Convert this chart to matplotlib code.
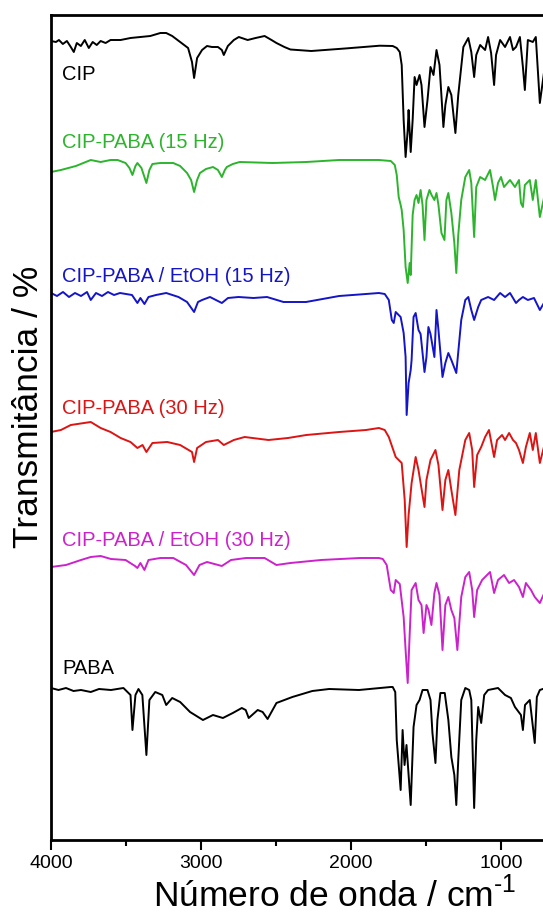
import matplotlib
matplotlib.use("Agg")
import matplotlib.pyplot as plt
from matplotlib.ticker import MultipleLocator

plt.rcParams['font.family'] = ['Liberation Sans', 'DejaVu Sans']
plt.rcParams['mathtext.fontset'] = 'custom'
plt.rcParams['mathtext.rm'] = 'Liberation Sans'

# FTIR spectra, stacked (transmittance in arbitrary offset units)
wn_cip = [4000, 3967, 3947, 3921, 3894, 3868, 3848, 3828, 3801, 3775,
          3748, 3722, 3695, 3669, 3636, 3603, 3536, 3470, 3404, 3338,
          3271, 3232, 3192, 3139, 3086, 3060, 3046, 3026, 2993, 2960,
          2927, 2887, 2861, 2848, 2821, 2781, 2748, 2689, 2636, 2576,
          2530, 2497, 2444, 2404, 2265, 2040, 1808, 1722, 1695, 1675,
          1662, 1649, 1636, 1622, 1616, 1602, 1589, 1576, 1563, 1543,
          1530, 1510, 1490, 1470, 1450, 1430, 1410, 1384, 1371, 1351,
          1331, 1304, 1285, 1251, 1218, 1198, 1179, 1165, 1139, 1106,
          1086, 1066, 1046, 1033, 1006, 973, 940, 920, 900, 874,
          854, 841, 821, 788, 768, 741, 702]
t_cip = [799, 798, 800, 796, 799, 793, 788, 797, 794, 800,
         792, 798, 795, 799, 797, 800, 800, 802, 803, 804,
         807, 807, 804, 798, 792, 778, 762, 782, 790, 794,
         793, 793, 790, 785, 794, 800, 803, 800, 802, 804,
         800, 797, 793, 790.5, 789, 791.5, 794.3, 794, 792, 788,
         775, 720, 683, 710, 730, 688, 720, 763, 755, 765,
         755, 713, 740, 773, 765, 790, 775, 713, 735, 753,
         745, 707, 745, 793, 802, 788, 763, 785, 795, 790,
         803, 787, 755, 785, 800, 793, 803, 790, 793, 803,
         773, 750, 800, 798, 803, 737, 780]

wn_15 = [4000, 3934, 3834, 3735, 3669, 3603, 3556, 3503, 3477, 3457,
         3437, 3424, 3397, 3364, 3344, 3324, 3271, 3185, 3139, 3093,
         3066, 3046, 3026, 3007, 2967, 2920, 2887, 2861, 2841, 2828,
         2788, 2742, 2523, 2298, 2079, 1814, 1735, 1708, 1695, 1682,
         1669, 1662, 1649, 1636, 1622, 1609, 1602, 1589, 1576, 1563,
         1550, 1536, 1523, 1510, 1497, 1477, 1463, 1444, 1430, 1417,
         1397, 1377, 1364, 1351, 1331, 1311, 1298, 1285, 1265, 1238,
         1212, 1198, 1179, 1165, 1139, 1106, 1073, 1053, 1040, 1020,
         1000, 980, 940, 907, 880, 867, 854, 841, 808, 788,
         768, 741, 702]
t_15 = [668, 670, 674, 680, 678, 680, 680, 677, 672, 665,
        674, 677, 672, 657, 670, 676, 677, 677, 674, 667,
        660, 648, 660, 667, 671, 673, 670, 663, 670, 673,
        676, 678, 677, 678, 680, 680, 679, 675, 665, 643,
        635, 630, 610, 573, 557, 577, 565, 625, 640, 645,
        637, 650, 635, 600, 640, 650, 645, 640, 647, 635,
        607, 600, 640, 647, 627, 597, 567, 605, 640, 663,
        670, 657, 603, 653, 663, 660, 670, 653, 640, 657,
        663, 653, 660, 653, 660, 637, 633, 655, 660, 640,
        660, 623, 650]

wn_et15 = [4000, 3960, 3920, 3880, 3840, 3800, 3760, 3735, 3700, 3660,
           3620, 3580, 3540, 3500, 3460, 3424, 3404, 3377, 3350, 3300,
           3232, 3150, 3093, 3046, 3020, 2993, 2940, 2861, 2820, 2750,
           2650, 2560, 2450, 2300, 2079, 1900, 1814, 1775, 1748, 1728,
           1715, 1702, 1689, 1669, 1649, 1636, 1629, 1616, 1602, 1596,
           1583, 1569, 1550, 1536, 1510, 1497, 1484, 1470, 1444, 1430,
           1417, 1390, 1371, 1351, 1331, 1298, 1265, 1238, 1218, 1198,
           1179, 1152, 1132, 1086, 1046, 1006, 973, 940, 900, 880,
           854, 821, 780, 741, 702]
t_et15 = [547, 544, 548, 543, 547, 544, 548, 540, 547, 544,
          548, 545, 547, 546, 545, 537, 542, 536, 543, 545,
          547, 543, 538, 528, 538, 540, 543, 537, 542, 543,
          542, 543, 538, 538, 544, 546, 547, 546, 540, 520,
          517, 528, 526, 523, 507, 483, 425, 457, 470, 480,
          523, 527, 510, 506, 468, 483, 513, 506, 483, 530,
          510, 463, 477, 487, 480, 467, 520, 540, 543, 530,
          520, 533, 540, 543, 540, 547, 543, 547, 537, 540,
          543, 540, 542, 530, 540]

wn_30 = [4000, 3934, 3868, 3735, 3669, 3603, 3536, 3470, 3424, 3390,
         3364, 3324, 3225, 3139, 3060, 3046, 3026, 2967, 2887, 2848,
         2781, 2709, 2550, 2420, 2298, 2079, 1900, 1814, 1775, 1748,
         1702, 1682, 1662, 1642, 1629, 1616, 1596, 1569, 1550, 1536,
         1510, 1497, 1470, 1437, 1417, 1390, 1371, 1351, 1331, 1304,
         1278, 1238, 1212, 1192, 1179, 1159, 1132, 1106, 1080, 1046,
         1026, 993, 973, 946, 920, 900, 880, 854, 834, 808,
         788, 768, 741, 702]
t_30 = [408, 410, 415, 418, 412, 408, 402, 398, 392, 395,
        388, 397, 398, 395, 388, 378, 392, 398, 400, 395,
        400, 403, 400, 402, 405, 408, 410, 412, 410, 403,
        383, 380, 377, 340, 293, 325, 357, 383, 370, 357,
        333, 360, 380, 390, 375, 330, 360, 370, 350, 325,
        370, 400, 407, 390, 353, 385, 393, 403, 410, 383,
        400, 405, 400, 407, 400, 397, 390, 377, 393, 407,
        390, 407, 377, 400]

wn_et30 = [4000, 3900, 3800, 3735, 3669, 3600, 3503, 3440, 3424, 3404,
           3377, 3350, 3271, 3185, 3100, 3046, 3010, 2960, 2861, 2800,
           2700, 2576, 2497, 2404, 2200, 1940, 1814, 1788, 1762, 1735,
           1715, 1702, 1675, 1649, 1636, 1622, 1609, 1596, 1569, 1550,
           1530, 1516, 1497, 1483, 1464, 1444, 1430, 1410, 1390, 1371,
           1351, 1331, 1311, 1291, 1265, 1238, 1212, 1192, 1179, 1159,
           1126, 1073, 1046, 1020, 980, 946, 913, 880, 854, 834,
           800, 775, 741, 702]
t_et30 = [273, 275, 280, 283, 284, 281, 280, 274, 272, 277,
          270, 280, 282, 282, 275, 265, 275, 278, 274, 280,
          282, 282, 275, 277, 280, 282, 282, 281, 275, 250,
          247, 260, 256, 223, 190, 157, 205, 250, 257, 240,
          235, 207, 235, 230, 215, 247, 257, 245, 190, 235,
          243, 230, 222, 190, 243, 263, 268, 250, 223, 250,
          260, 268, 247, 260, 265, 257, 260, 253, 243, 257,
          250, 243, 237, 250]

wn_paba = [4000, 3950, 3900, 3850, 3800, 3735, 3680, 3600, 3517, 3470,
           3457, 3437, 3417, 3391, 3364, 3344, 3305, 3258, 3232, 3192,
           3139, 3073, 2987, 2920, 2854, 2788, 2728, 2702, 2682, 2622,
           2589, 2556, 2497, 2391, 2258, 2146, 1947, 1735, 1722, 1705,
           1695, 1669, 1656, 1643, 1630, 1602, 1583, 1563, 1543, 1523,
           1490, 1470, 1457, 1437, 1424, 1404, 1375, 1351, 1331, 1311,
           1298, 1285, 1265, 1238, 1212, 1198, 1179, 1165, 1152, 1132,
           1112, 1086, 1020, 973, 934, 907, 867, 854, 840, 808,
           775, 761, 741, 702]
t_paba = [152, 150, 152, 149, 150, 148, 151, 150, 152, 145,
          110, 145, 151, 145, 85, 140, 148, 145, 135, 142,
          138, 128, 120, 125, 122, 127, 132, 130, 122, 130,
          128, 121, 137, 143, 149, 151, 150, 153, 153, 148,
          100, 50, 110, 75, 95, 35, 113, 135, 140, 150,
          150, 140, 107, 77, 120, 147, 147, 120, 83, 65,
          35, 80, 140, 152, 150, 140, 32, 100, 133, 117,
          145, 150, 152, 145, 142, 133, 125, 110, 135, 140,
          97, 143, 150, 152]

names = ["CIP", "CIP-PABA (15 Hz)", "CIP-PABA / EtOH (15 Hz)",
         "CIP-PABA (30 Hz)", "CIP-PABA / EtOH (30 Hz)", "PABA"]
label_pos = [766, 697, 564, 432, 300, 172]
colors = ["black", "#2cb52c", "#1414c8", "#dc1414", "#cc22cc", "black"]

spectra = [(wn_cip, t_cip), (wn_15, t_15), (wn_et15, t_et15),
           (wn_30, t_30), (wn_et30, t_et30), (wn_paba, t_paba)]

fig = plt.figure(figsize=(5.43, 9.15), dpi=100)
ax = fig.add_axes([51 / 543, 75 / 915, 540 / 543, 825.5 / 915])

for (x, y), name, ly, c in zip(spectra, names, label_pos, colors):
    ax.plot(x, y, color=c, lw=1.4)
    ax.text(3927, ly, name, color=c, fontsize=14.5, ha="left", va="center")

ax.set_xlim(4000, 400)
ax.set_ylim(0, 825.5)
ax.set_xticks([4000, 3000, 2000, 1000])
ax.xaxis.set_minor_locator(MultipleLocator(500))
ax.tick_params(axis="x", which="major", direction="out", length=7,
               width=1.5, labelsize=14, pad=4)
ax.tick_params(axis="x", which="minor", direction="out", length=4.5, width=1.5)
ax.set_yticks([])
for sp in ax.spines.values():
    sp.set_linewidth(2)

ax.set_xlabel("Número de onda / cm$^{\\text{-1}}$", fontsize=25.5)
ax.xaxis.set_label_coords(0.526, -0.044)
ax.set_ylabel("Transmitância / %", fontsize=25.5)
ax.yaxis.set_label_coords(-0.012, 0.525)

fig.savefig("out.png", dpi=100)
